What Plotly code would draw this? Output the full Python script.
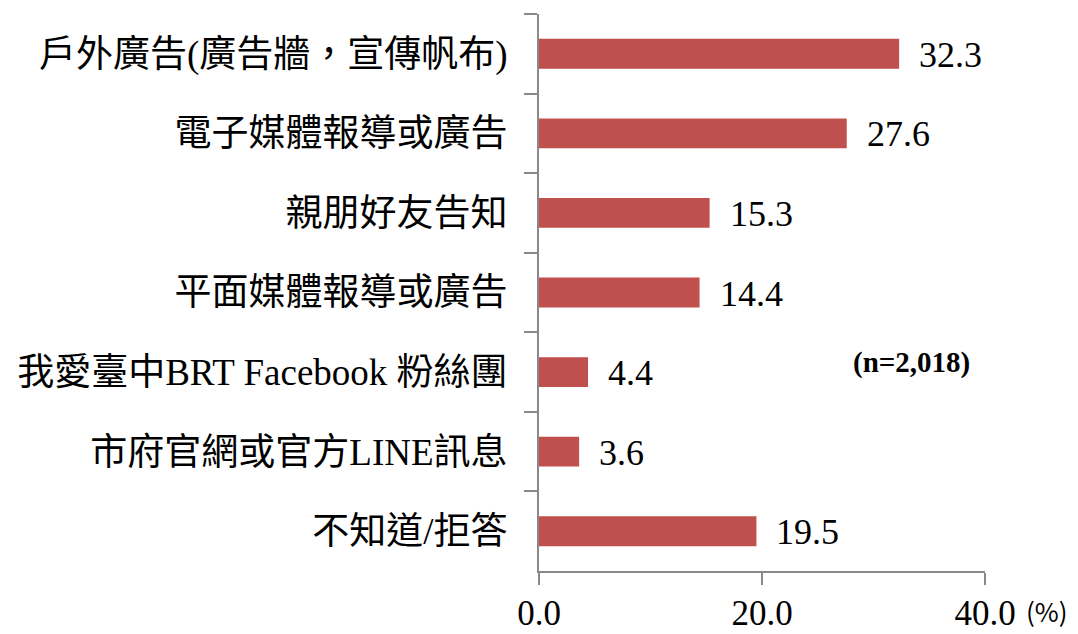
import plotly.graph_objects as go

categories = ["戶外廣告(廣告牆，宣傳帆布)", "電子媒體報導或廣告", "親朋好友告知", "平面媒體報導或廣告",
              "我愛臺中BRT Facebook 粉絲團", "市府官網或官方LINE訊息", "不知道/拒答"]
values = [32.3, 27.6, 15.3, 14.4, 4.4, 3.6, 19.5]
x_ticks = [0, 20, 40]
x_tick_labels = ["0.0", "20.0", "40.0"]

FONT = "Liberation Serif, Times New Roman, Noto Sans CJK TC, serif"
AXIS = "#898989"
BAR = "#C0504D"

# page body has an 8px margin; compensate so the plot sits where intended
OFF = 8
W, H = 1078 - OFF, 634 - OFF
L, R, T, B = 539 - OFF, 93, 14 - OFF, 63
pw, ph = W - L - R, H - T - B


def px_to_paper(px, py):
    return (px - OFF - L) / pw, 1 - (py - OFF - T) / ph


fig = go.Figure()
fig.add_trace(go.Bar(
    x=values, y=categories, orientation="h",
    marker=dict(color=BAR, line=dict(width=0)),
    width=0.375, hoverinfo="skip",
))

for c, v in zip(categories, values):
    fig.add_annotation(x=v, y=c, text=f"{v:.1f}", showarrow=False, xanchor="left",
                       xshift=18, yshift=-1, font=dict(family=FONT, size=36, color="black"))

ax, ay = px_to_paper(911, 362)
fig.add_annotation(x=ax, y=ay, xref="paper", yref="paper", text="<b>(n=2,018)</b>", showarrow=False,
                   xanchor="center", yanchor="middle",
                   font=dict(family=FONT, size=29, color="black"))
ax, ay = px_to_paper(1047, 610)
fig.add_annotation(x=ax, y=ay, xref="paper", yref="paper", text="(%)", showarrow=False,
                   xanchor="center", yanchor="middle",
                   font=dict(family="Noto Sans CJK TC, sans-serif", size=26, color="black"))

fig.update_layout(
    width=W, height=H,
    margin=dict(l=L, r=R, t=T, b=B, autoexpand=False),
    plot_bgcolor="white", paper_bgcolor="white",
    showlegend=False,
    font=dict(family=FONT, color="black"),
    xaxis=dict(range=[0, 40], tickvals=x_ticks, ticktext=x_tick_labels,
               showgrid=False, zeroline=False, showline=True, linecolor=AXIS, linewidth=2,
               ticks="outside", ticklen=12, tickwidth=2, tickcolor=AXIS, automargin=False,
               tickfont=dict(family=FONT, size=35, color="black"), ticklabelstandoff=-2),
    yaxis=dict(autorange="reversed", type="category", tickson="boundaries",
               showgrid=False, zeroline=False, showline=True, linecolor=AXIS, linewidth=2,
               ticks="outside", ticklen=13, tickwidth=2, tickcolor=AXIS, automargin=False,
               tickfont=dict(family=FONT, size=37, color="black"), ticklabelstandoff=22),
)

fig.write_html("out.html")
